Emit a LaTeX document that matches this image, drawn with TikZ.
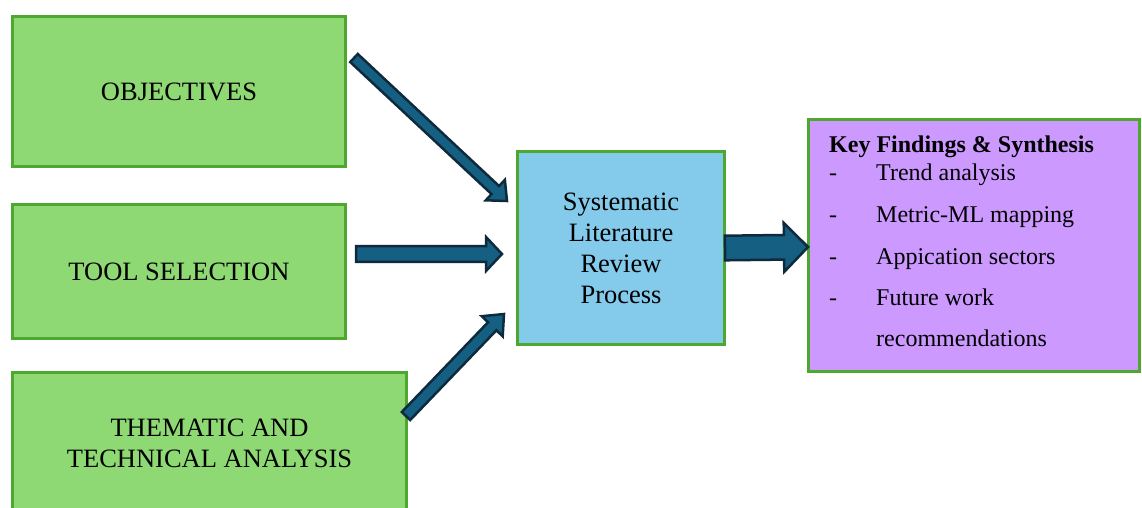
\documentclass[tikz,border=0pt]{standalone}
\usepackage{fontspec}
\setmainfont{Liberation Serif}
\usetikzlibrary{calc}

\definecolor{boxgreen}{HTML}{8ED973}
\definecolor{edgegreen}{HTML}{4EA72E}
\definecolor{slrblue}{HTML}{83CAEB}
\definecolor{kfpurple}{HTML}{CC99FF}
\definecolor{arrowfill}{HTML}{156082}
\definecolor{arrowedge}{HTML}{0E2A3C}

% block arrow: tail, tip, half shaft width, half head width, head length
\newcommand{\blockarrow}[5]{%
  \draw[barrow]
    ($(#1)!#3!90:(#2)$)
    -- ($(#2)!#5!(#1)!#3!-90:(#1)$)
    -- ($(#2)!#5!(#1)!#4!-90:(#1)$)
    -- (#2)
    -- ($(#2)!#5!(#1)!#4!90:(#1)$)
    -- ($(#2)!#5!(#1)!#3!90:(#1)$)
    -- ($(#1)!#3!-90:(#2)$)
    -- cycle;}

\begin{document}
\begin{tikzpicture}[x=1pt,y=-1pt,
  box/.style={draw=edgegreen, line width=3pt, inner sep=0pt, align=center,
    font=\fontsize{26.5}{31}\selectfont},
  greenbox/.style={box, fill=boxgreen},
  barrow/.style={fill=arrowfill, draw=arrowedge, line width=2.5pt, line join=miter},
  kftext/.style={anchor=base west, inner sep=0pt, font=\fontsize{24}{29}\selectfont}]

\useasboundingbox (0,0) rectangle (1142,507);
\clip (0,0) rectangle (1142,507);

% input boxes
\node[greenbox, minimum width=333pt, minimum height=150pt] (obj) at (179,91.5) {OBJECTIVES};
\node[greenbox, minimum width=333pt, minimum height=134pt] (tool) at (179,271.5) {TOOL SELECTION};
\node[greenbox, minimum width=394pt, minimum height=142pt] (them) at (209.5,443.5)
  {THEMATIC AND\\TECHNICAL ANALYSIS};

% central process
\node[box, fill=slrblue, minimum width=207pt, minimum height=193pt] (slr) at (621,248)
  {Systematic\\Literature\\Review\\Process};

% findings box
\node[box, fill=kfpurple, minimum width=331pt, minimum height=252pt] (kf) at (974,245.5) {};
\node[kftext] (kfh) at (829,152) {\textbf{Key Findings \& Synthesis}};
\node[kftext] (d1) at (829,180) {-};
\node[kftext] (t1) at (876,180) {Trend analysis};
\node[kftext] (d2) at (829,222) {-};
\node[kftext] (t2) at (876,222) {Metric-ML mapping};
\node[kftext] (d3) at (829,264) {-};
\node[kftext] (t3) at (876,264) {Appication sectors};
\node[kftext] (d4) at (829,305) {-};
\node[kftext] (t4) at (876,305) {Future work};
\node[kftext] (t5) at (876,346) {recommendations};

% arrow end points
\coordinate (a1s) at (354,58);
\coordinate (a1e) at (507,201);
\coordinate (a2s) at (356,254);
\coordinate (a2e) at (502,254);
\coordinate (a3s) at (406,416);
\coordinate (a3e) at (504,314);
\coordinate (a4s) at (725,248);
\coordinate (a4e) at (808,247);

\blockarrow{a1s}{a1e}{5.5pt}{14pt}{16pt}
\blockarrow{a2s}{a2e}{7.8pt}{17pt}{16pt}
\blockarrow{a3s}{a3e}{5.8pt}{14.5pt}{17pt}
\blockarrow{a4s}{a4e}{12.3pt}{24.5pt}{24pt}

\end{tikzpicture}
\end{document}
